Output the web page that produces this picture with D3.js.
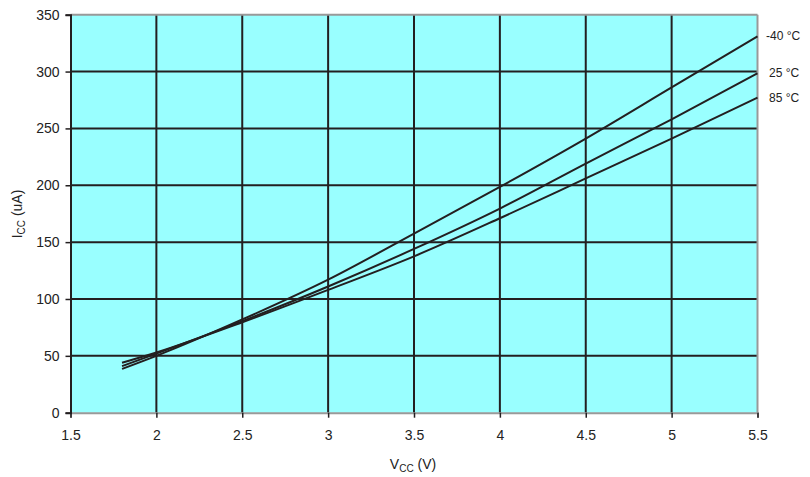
<!DOCTYPE html>
<html><head><meta charset="utf-8">
<script src="https://cdn.jsdelivr.net/npm/d3@7"></script>
<style>body{margin:0;background:#fff;}svg{display:block;font-family:"Liberation Sans",Arial,sans-serif;}</style>
</head><body><svg id="c" width="810" height="477"></svg>
<script>
const vcc = [1.8, 2, 2.5, 3, 3.5, 4, 4.5, 5, 5.5];
const iccM40 = [38.5, 50, 82, 117, 157.5, 198.5, 241, 286, 331];
const icc25 = [41, 52, 80.5, 111, 144, 179.5, 219, 258, 298.5];
const icc85 = [44, 53, 79.5, 108, 137.5, 171, 206, 241, 277];
const seriesNames = ["-40 °C", "25 °C", "85 °C"];
const xTicks = [1.5, 2, 2.5, 3, 3.5, 4, 4.5, 5, 5.5];
const yTicks = [0, 50, 100, 150, 200, 250, 300, 350];

const svg = d3.select("#c");
const L = 70.5, R = 757.5, T = 14.7, B = 412.7;
const x = d3.scaleLinear().domain([1.5, 5.5]).range([L, R]);
const y = d3.scaleLinear().domain([0, 350]).range([B, T]);
const dark = "#231f20";

svg.append("rect").attr("x", L).attr("y", T).attr("width", R - L).attr("height", B - T).attr("fill", "#99ffff");

// grid
svg.append("g").selectAll("line").data(xTicks.slice(1, -1)).join("line")
  .attr("x1", d => x(d)).attr("x2", d => x(d)).attr("y1", T).attr("y2", B)
  .attr("stroke", dark).attr("stroke-width", 2);
svg.append("g").selectAll("line").data(yTicks.slice(1, -1)).join("line")
  .attr("x1", L).attr("x2", R).attr("y1", d => y(d)).attr("y2", d => y(d))
  .attr("stroke", dark).attr("stroke-width", 2);

// border top/right gray
svg.append("line").attr("x1", L).attr("x2", R).attr("y1", T).attr("y2", T).attr("stroke", "#999").attr("stroke-width", 2);
svg.append("line").attr("x1", R).attr("x2", R).attr("y1", T).attr("y2", B).attr("stroke", "#999").attr("stroke-width", 2);

// axes
const xAxis = svg.append("g").attr("transform", `translate(0,${B})`)
  .call(d3.axisBottom(x).tickValues(xTicks).tickSize(5).tickPadding(12).tickFormat(d3.format("")));
const yAxis = svg.append("g").attr("transform", `translate(${L},0)`)
  .call(d3.axisLeft(y).tickValues(yTicks).tickSize(5).tickPadding(6));
[xAxis, yAxis].forEach(a => {
  a.select(".domain").attr("stroke", dark).attr("stroke-width", 2);
  a.selectAll(".tick line").attr("stroke", dark).attr("stroke-width", 1.5);
  a.selectAll("text").attr("fill", "#222").style("font-size", "14px").style("font-family", "Liberation Sans, Arial, sans-serif");
});
xAxis.select(".domain").attr("stroke", "#999");

// lines
const allSeries = [iccM40, icc25, icc85];
const line = d3.line().x((d, i) => x(vcc[i])).y(d => y(d)).curve(d3.curveMonotoneX);
svg.append("g").selectAll("path").data(allSeries).join("path")
  .attr("d", d => line(d)).attr("fill", "none").attr("stroke", dark).attr("stroke-width", 2);

// labels
const labelY = [36, 73, 98];
const labelX = [766, 769, 769];
svg.append("g").selectAll("text").data(seriesNames).join("text")
  .attr("x", (d, i) => labelX[i]).attr("y", (d, i) => labelY[i]).attr("dy", "0.35em")
  .attr("fill", "#222").style("font-size", "12px").text(d => d);

// axis titles
const xt = svg.append("text").attr("x", 413).attr("y", 469).attr("text-anchor", "middle").attr("fill", "#222").style("font-size", "14px");
xt.append("tspan").text("V");
xt.append("tspan").attr("dy", 3).style("font-size", "10px").text("CC");
xt.append("tspan").attr("dy", -3).text(" (V)");
const yt = svg.append("text").attr("transform", "translate(22,214) rotate(-90)").attr("text-anchor", "middle").attr("fill", "#222").style("font-size", "14px");
yt.append("tspan").text("I");
yt.append("tspan").attr("dy", 3).style("font-size", "10px").text("CC");
yt.append("tspan").attr("dy", -3).text(" (uA)");
</script></body></html>
